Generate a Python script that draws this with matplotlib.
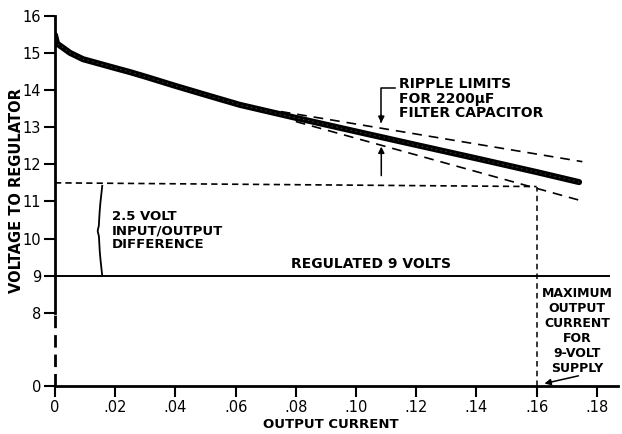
import numpy as np
import matplotlib
matplotlib.use("Agg")
import matplotlib.pyplot as plt

plt.rcParams['font.family'] = ['DejaVu Sans']
plt.rcParams['lines.scale_dashes'] = False

# supply voltage seen by the regulator vs load current
current = [0, 0.0007, 0.005, 0.0093, 0.02, 0.025, 0.03, 0.04, 0.05,
           0.0614, 0.08, 0.1002, 0.12, 0.141, 0.16, 0.1741]
voltage = [15.48, 15.25, 15.0, 14.83, 14.59, 14.48, 14.36, 14.11, 13.87,
           13.60, 13.25, 12.88, 12.52, 12.14, 11.79, 11.52]

# ripple envelope for the 2200uF filter capacitor
ripple_hi_x = [0.075, 0.1752]
ripple_hi_v = [13.42, 12.07]
ripple_lo_x = [0.08, 0.1752]
ripple_lo_v = [13.15, 11.01]

regulated_v = 9.0
dropout_x = [0, 0.16]
dropout_v = [11.5, 11.4]
max_current = 0.16

x_ticks = [0, 0.02, 0.04, 0.06, 0.08, 0.10, 0.12, 0.14, 0.16, 0.18]
x_ticklabels = ['0', '.02', '.04', '.06', '.08', '.10', '.12', '.14', '.16', '.18']
y_ticks = [0, 8, 9, 10, 11, 12, 13, 14, 15, 16]
y_ticklabels = ['0', '8', '9', '10', '11', '12', '13', '14', '15', '16']

# broken axis: 0..8 V squeezed into a short stretch below the 8 V mark
BREAK = 8.0
LOW_SPAN = 1.97


def fwd(v):
    v = np.asarray(v, dtype=float)
    return np.where(v >= BREAK, v, BREAK - (BREAK - v) * LOW_SPAN / BREAK)


def inv(d):
    d = np.asarray(d, dtype=float)
    return np.where(d >= BREAK, d, BREAK - (BREAK - d) * BREAK / LOW_SPAN)


fig = plt.figure(figsize=(6.22, 4.34), dpi=100)
ax = fig.add_axes([0.0884, 0.1106, 0.905, 0.8532])
ax.set_yscale('function', functions=(fwd, inv))
ax.set_xlim(0, 0.187)
ax.set_ylim(0, 16)

for s in ['top', 'right']:
    ax.spines[s].set_visible(False)
ax.spines['left'].set_bounds(8, 16)
ax.spines['left'].set_linewidth(2)
ax.spines['bottom'].set_linewidth(2)
# dashed part of the vertical axis across the break
ax.plot([0, 0], [0, 8], color='k', lw=2, ls=(0, (9, 5)), clip_on=False)

ax.set_xticks(x_ticks)
ax.set_xticklabels(x_ticklabels)
ax.set_yticks(y_ticks)
ax.set_yticklabels(y_ticklabels)
ax.yaxis.set_minor_locator(matplotlib.ticker.NullLocator())
ax.xaxis.set_minor_locator(matplotlib.ticker.NullLocator())
ax.tick_params(direction='out', length=8, width=1.5, labelsize=10.5, pad=2)

ax.set_ylabel('VOLTAGE TO REGULATOR', fontsize=10.5, fontweight='bold')
ax.yaxis.set_label_coords(-0.055, 0.527)
ax.set_xlabel('OUTPUT CURRENT', fontsize=9.5, fontweight='bold', va='top')
ax.xaxis.set_label_coords(0.49, -0.086)

# main curve, heavy grainy stroke
ax.plot(current, voltage, color='k', lw=4.4, solid_capstyle='round')
ax.plot(current, voltage, color='white', lw=0.6, alpha=0.3, ls=(0, (1, 2.5)))

# ripple limits
ax.plot(ripple_hi_x, ripple_hi_v, color='k', lw=1.2, ls=(0, (7, 5)))
ax.plot(ripple_lo_x, ripple_lo_v, color='k', lw=1.2, ls=(0, (7, 5)))

# regulated output and dropout level
ax.axhline(regulated_v, xmin=0, xmax=0.985, color='k', lw=1.4)
ax.plot(dropout_x, dropout_v, color='k', lw=1.2, ls=(0, (4.5, 3)))
ax.plot([max_current, max_current], [0, dropout_v[1]], color='k', lw=1.1,
        ls=(0, (4, 3)))

# ripple callout
ax.plot([0.1084, 0.1084, 0.1128], [13.15, 14.05, 14.05], color='k', lw=1.1)
ax.annotate('', xy=(0.1084, 13.04), xytext=(0.1084, 13.4),
            arrowprops=dict(arrowstyle='-|>', color='k', lw=1.1, mutation_scale=9))
ax.annotate('', xy=(0.1084, 12.55), xytext=(0.1084, 11.62),
            arrowprops=dict(arrowstyle='-|>', color='k', lw=1.1, mutation_scale=9))
ax.text(0.1144, 14.16, 'RIPPLE LIMITS', fontsize=10, fontweight='bold', va='center')
ax.text(0.1144, 13.77, 'FOR 2200\u03bcF', fontsize=10, fontweight='bold', va='center')
ax.text(0.1144, 13.37, 'FILTER CAPACITOR', fontsize=10, fontweight='bold', va='center')

# brace spanning the 2.5 V headroom
t = np.linspace(0, 1, 200)
brace_x = 0.0157 - 0.0011 * np.sin(np.pi * t) - 0.0004 * np.exp(-((t - 0.5) / 0.04) ** 2)
brace_v = dropout_v[0] - 0.08 - t * (dropout_v[0] - 0.08 - regulated_v)
ax.plot(brace_x, brace_v, color='k', lw=1.3)
ax.text(0.0188, 10.59, '2.5 VOLT', fontsize=9.5, fontweight='bold', va='center')
ax.text(0.0188, 10.21, 'INPUT/OUTPUT', fontsize=9.5, fontweight='bold', va='center')
ax.text(0.0188, 9.83, 'DIFFERENCE', fontsize=9.5, fontweight='bold', va='center')

ax.text(0.105, 9.12, 'REGULATED 9 VOLTS', fontsize=10, fontweight='bold',
        ha='center', va='bottom')

# maximum current callout
ax.text(0.1735, 8.7, 'MAXIMUM\nOUTPUT\nCURRENT\nFOR\n9-VOLT\nSUPPLY',
        fontsize=9, fontweight='bold', ha='center', va='top', linespacing=1.2)
ax.annotate('', xy=(0.1617, 0.2), xytext=(0.1748, 1.18),
            arrowprops=dict(arrowstyle='-|>', color='k', lw=1.1, mutation_scale=9))

fig.savefig('out.png', dpi=100)
